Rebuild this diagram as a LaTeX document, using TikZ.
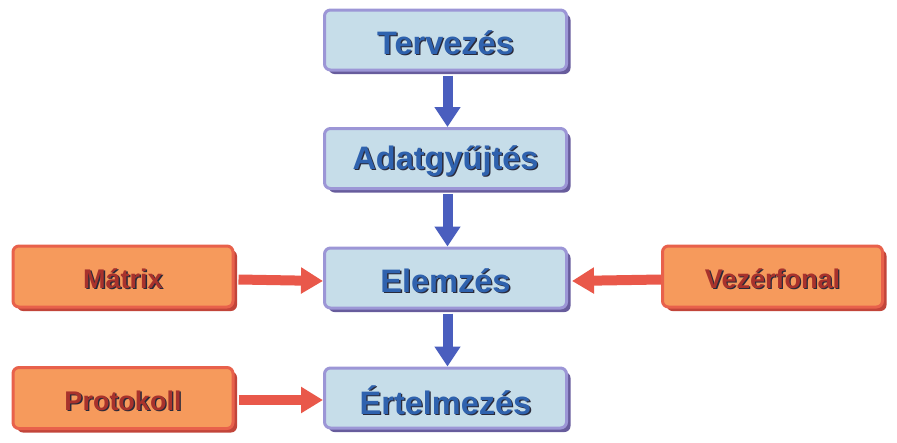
\documentclass[tikz,border=0pt]{standalone}
\usepackage{fontspec}
\setmainfont{Liberation Sans}
\usetikzlibrary{arrows.meta,shadows}
\definecolor{bfill}{HTML}{C6DDE9}
\definecolor{bborder}{HTML}{9C96D6}
\definecolor{bshadow}{HTML}{675C9C}
\definecolor{btext}{HTML}{2F62AE}
\definecolor{ofill}{HTML}{F69A5C}
\definecolor{oborder}{HTML}{E8614B}
\definecolor{oshadow}{HTML}{C2453A}
\definecolor{otext}{HTML}{A8322C}
\definecolor{barrow}{HTML}{4A5EBE}
\definecolor{rarrow}{HTML}{E9584A}
\definecolor{tshadow}{HTML}{2A2A3A}
\newcommand\shtxt[2]{\raisebox{-3pt}[\height][\depth]{\rlap{\kern1.3pt\raisebox{-1.3pt}{\textcolor{tshadow}{#2}}}\textcolor{#1}{#2}}}
\tikzset{
  bluebox/.style={draw=bborder, line width=3pt, fill=bfill, rounded corners=6pt,
    minimum width=242pt, minimum height=60pt, font=\bfseries\fontsize{32.5}{32.5}\selectfont,
    drop shadow={shadow xshift=4pt, shadow yshift=-4pt, fill=bshadow, opacity=1}},
  orangebox/.style={draw=oborder, line width=3pt, fill=ofill, rounded corners=6pt,
    minimum width=220pt, minimum height=61pt, font=\bfseries\fontsize{27}{27}\selectfont,
    drop shadow={shadow xshift=4pt, shadow yshift=-4pt, fill=oshadow, opacity=1}},
  barr/.style={draw=barrow, line width=10pt, -{Triangle[width=25pt,length=20pt]}},
  rarr/.style={draw=rarrow, line width=10pt, -{Triangle[width=25pt,length=22pt]}},
}
\begin{document}
\begin{tikzpicture}[x=1pt,y=-1pt]
\useasboundingbox (0,0) rectangle (897,442);
\node[bluebox] (T) at (445.5,40) {\shtxt{btext}{Tervezés}};
\node[bluebox] (A) at (445.5,158.5) {\shtxt{btext}{Adatgyűjtés}};
\node[bluebox] (E) at (445.5,278) {\shtxt{btext}{Elemzés}};
\node[bluebox] (R) at (445.5,398) {\shtxt{btext}{Értelmezés}};
\node[orangebox] (M) at (123,276.5) {\shtxt{otext}{Mátrix}};
\node[orangebox] (V) at (772.5,276.5) {\shtxt{otext}{Vezérfonal}};
\node[orangebox] (P) at (123,398) {\shtxt{otext}{Protokoll}};
\draw[barr] ([xshift=2pt,yshift=-4pt]T.south) -- ([xshift=2pt]A.north);
\draw[barr] ([xshift=2pt,yshift=-4pt]A.south) -- ([xshift=2pt]E.north);
\draw[barr] ([xshift=2pt,yshift=-4pt]E.south) -- ([xshift=2pt]R.north);
\draw[rarr] ([xshift=4pt,yshift=-3pt]M.east) -- ([yshift=-3pt]E.west);
\draw[rarr] ([yshift=-3pt]V.west) -- ([xshift=4pt,yshift=-3pt]E.east);
\draw[rarr] ([xshift=4pt,yshift=-2pt]P.east) -- ([yshift=-2pt]R.west);
\end{tikzpicture}
\end{document}
